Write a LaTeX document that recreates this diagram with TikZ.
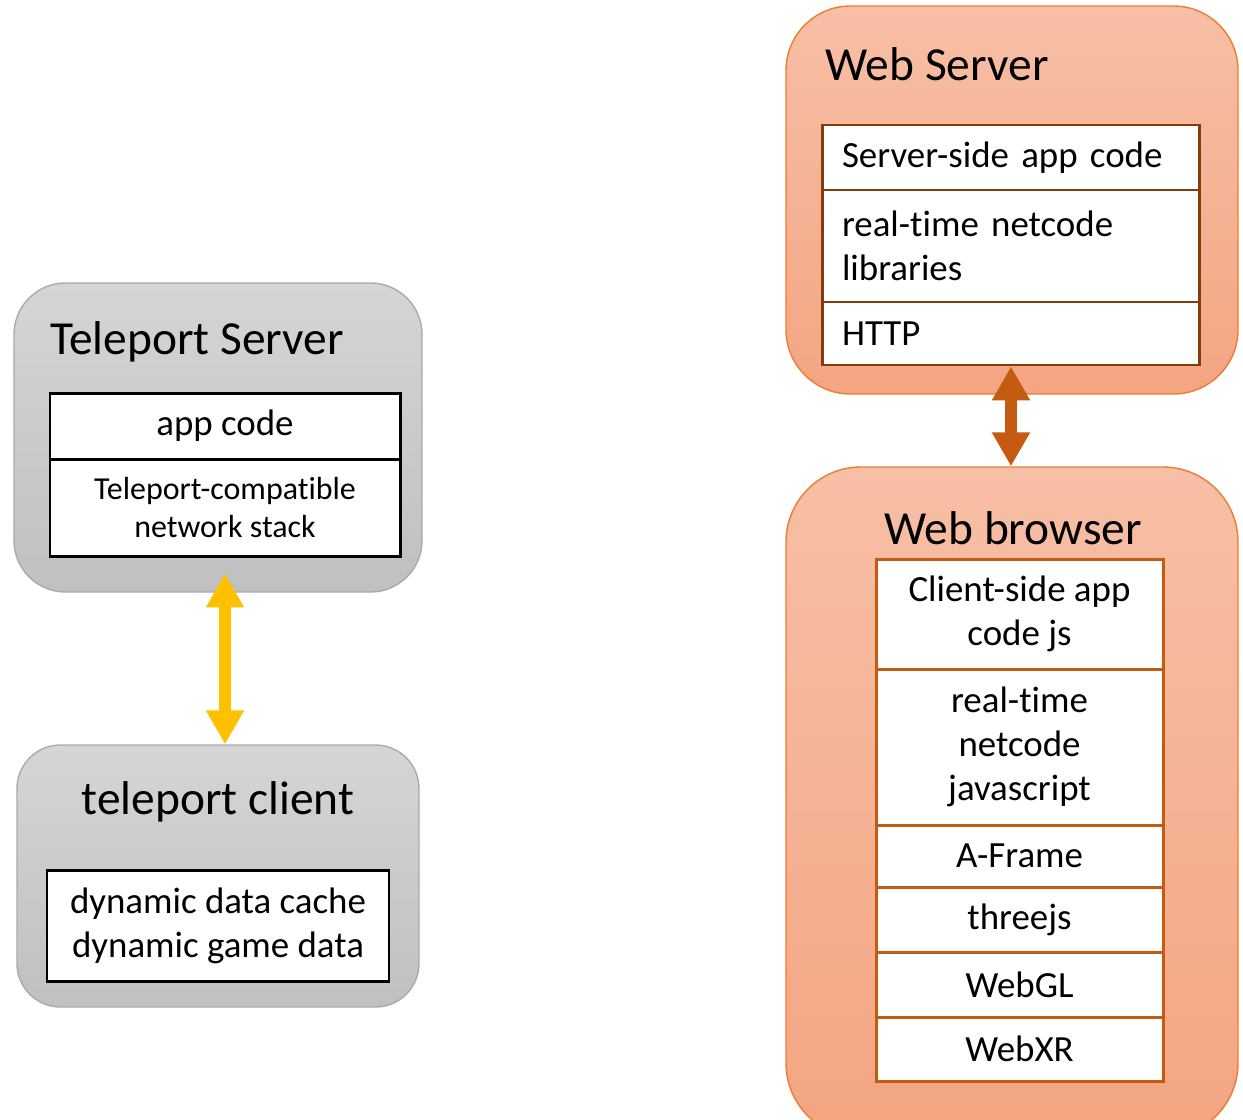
\documentclass[tikz,border=0pt]{standalone}
\usepackage{fontspec}
\setmainfont{Carlito}[Ligatures=NoCommon]
\usetikzlibrary{arrows.meta}
\definecolor{grauoben}{HTML}{D5D5D5}
\definecolor{grauunten}{HTML}{C0C0C0}
\definecolor{graulinie}{HTML}{ABABAB}
\definecolor{pfirsichoben}{HTML}{F7BFA6}
\definecolor{pfirsichunten}{HTML}{F4A582}
\definecolor{orangelinie}{HTML}{ED7D31}
\definecolor{braunlinie}{HTML}{843C0C}
\definecolor{rost}{HTML}{C55A11}
\definecolor{gold}{HTML}{FFC000}
\tikzset{
  grau/.style={draw=graulinie,line width=0.8pt,top color=grauoben,bottom color=grauunten},
  pfirsich/.style={draw=orangelinie,line width=0.8pt,top color=pfirsichoben,bottom color=pfirsichunten},
  titel/.style={font=\fontsize{27}{32}\selectfont,inner sep=0pt},
  zeile/.style={draw,fill=white,line width=1.7pt,inner sep=0pt,font=\fontsize{21}{25}\selectfont},
  links/.style={text width=6.76cm,align=left,inner xsep=0.4cm},
}
\begin{document}
\begin{tikzpicture}[x=0.02cm,y=-0.02cm,>={Triangle[width=0.72cm,length=0.68cm]}]
\def\px{0.02cm}
\def\pfeil#1#2#3{
\draw[<->,line width=0.24cm,#1] #2 -- #3;
}
\useasboundingbox (0,0) rectangle (1243,1119);
\clip (0,0) rectangle (1243,1119);
\coordinate (tserver) at (218,437.5);
\coordinate (tclient) at (218,876);
\coordinate (wserver) at (1012,200);
\coordinate (wbrowser) at (1012,802.5);
% grosse Kaesten
\node[grau,rounded corners=1.03cm,minimum width={408*\px},minimum height={309*\px}] (tsrv) at (tserver) {};
\node[grau,rounded corners=0.87cm,minimum width={402*\px},minimum height={262*\px}] (tclt) at (tclient) {};
\node[pfirsich,rounded corners=1.29cm,minimum width={452*\px},minimum height={388*\px}] (wsrv) at (wserver) {};
\node[pfirsich,rounded corners=1.5cm,minimum width={452*\px},minimum height={671*\px}] (wbr) at (wbrowser) {};
\node[titel,anchor=base west] (tsrvtitel) at (50,354) {Teleport Server};
\node[titel,anchor=base] (tclttitel) at (218,814) {teleport client};
\node[titel,anchor=base west] (wsrvtitel) at (825,80) {Web Server};
\node[titel,anchor=base] (wbrtitel) at (1013,544) {Web browser};
% Teleport
\node[zeile,minimum width={350*\px},minimum height={66*\px}] (appcode) at (225,426) {app code};
\node[zeile,minimum width={350*\px},minimum height={97*\px},font=\fontsize{18.2}{22}\selectfont,align=center] (stack) at (225,507.5) {Teleport-compatible\\network stack};
\node[zeile,minimum width={342*\px},minimum height={111*\px},align=center] (cache) at (218,925.5) {dynamic data cache\\dynamic game data};
% Web Server
\node[zeile,draw=braunlinie,links,minimum height={65*\px}] (srvcode) at (1011,157.5) {Server-side app code};
\node[zeile,draw=braunlinie,links,minimum height={112*\px}] (srvnet) at (1011,246) {real-time netcode\\libraries};
\node[zeile,draw=braunlinie,links,minimum height={63*\px}] (http) at (1011,333.5) {HTTP};
% Web browser
\node[zeile,draw=rost,minimum width={287*\px},minimum height={110*\px},align=center] (clcode) at (1019.5,614) {Client-side app\\code js};
\node[zeile,draw=rost,minimum width={287*\px},minimum height={156*\px},align=center] (clnet) at (1019.5,747) {real-time\\netcode\\javascript};
\node[zeile,draw=rost,minimum width={287*\px},minimum height={62*\px}] (aframe) at (1019.5,856) {A-Frame};
\node[zeile,draw=rost,minimum width={287*\px},minimum height={65*\px}] (threejs) at (1019.5,919.5) {threejs};
\node[zeile,draw=rost,minimum width={287*\px},minimum height={65*\px}] (webgl) at (1019.5,984.5) {WebGL};
\node[zeile,draw=rost,minimum width={287*\px},minimum height={64*\px}] (webxr) at (1019.5,1049) {WebXR};
% Pfeile
\pfeil{gold,shorten <=0.32cm}{(stack.south)}{(stack.south |- tclt.north)}
\pfeil{rost}{(http.south)}{(http.south |- wbr.north)}
\end{tikzpicture}
\end{document}
